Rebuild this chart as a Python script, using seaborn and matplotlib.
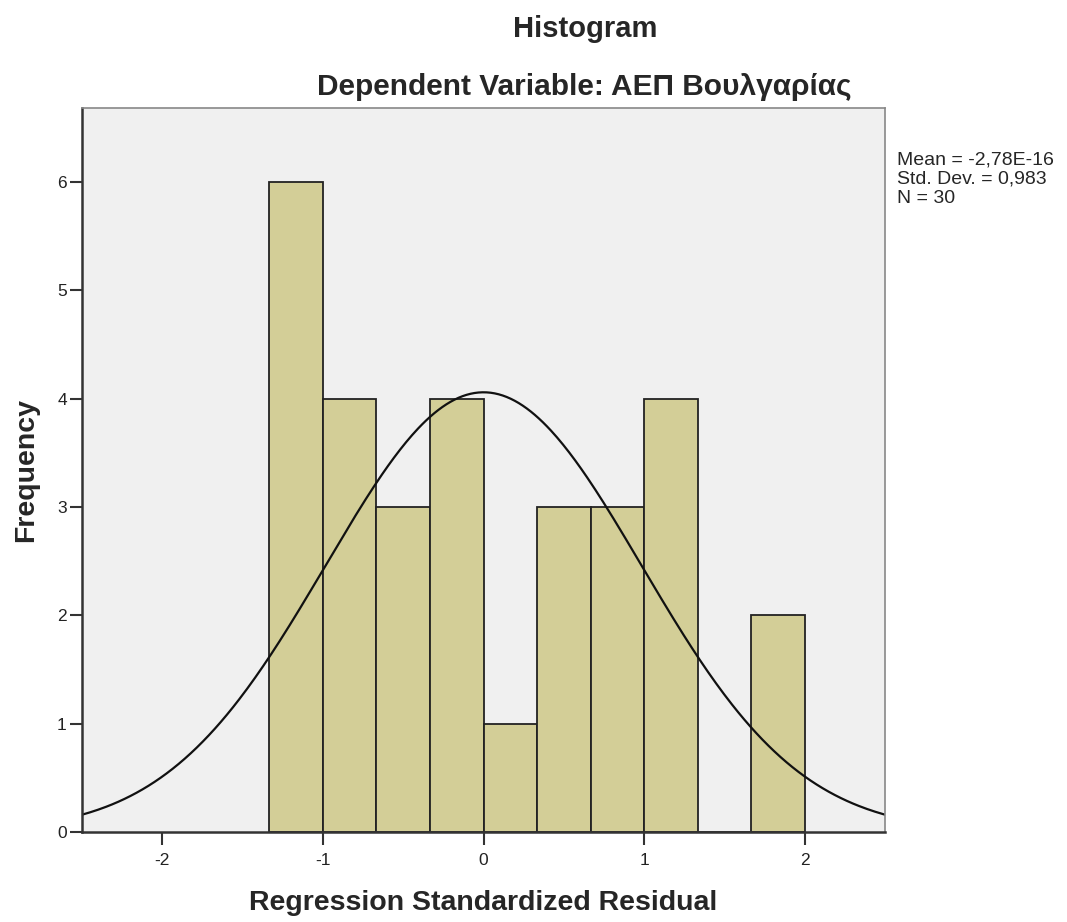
import matplotlib
matplotlib.use("Agg")
import matplotlib.pyplot as plt
import seaborn as sns
import numpy as np
import pandas as pd

# histogram bins (regression standardized residual) and frequencies
bin_edges = [-4/3, -1, -2/3, -1/3, 0, 1/3, 2/3, 1, 4/3, 5/3, 2]
counts = [6, 4, 3, 4, 1, 3, 3, 4, 0, 2]
x_ticks = [-2, -1, 0, 1, 2]
y_ticks = [0, 1, 2, 3, 4, 5, 6]
mean_val = -2.78e-16
std_val = 0.983
n_val = 30

sns.set_style("ticks")
plt.rcParams['font.family'] = ['Liberation Sans', 'DejaVu Sans']
plt.rcParams['axes.unicode_minus'] = False

fig = plt.figure(figsize=(10.67, 9.22), dpi=100)
ax = fig.add_axes([0.0769, 0.0976, 0.7526, 0.785])
ax.set_facecolor('#F0F0F0')

centers = [(a + b) / 2 for a, b in zip(bin_edges[:-1], bin_edges[1:])]
df = pd.DataFrame({'resid': centers, 'freq': counts})
sns.histplot(data=df, x='resid', weights='freq', bins=bin_edges, ax=ax,
             color='#D3CE97', alpha=1, edgecolor='#222222', linewidth=1.3)

# fitted normal curve
bw = bin_edges[1] - bin_edges[0]
xs = np.linspace(-2.5, 2.5, 400)
ys = n_val * bw * np.exp(-0.5 * ((xs - mean_val) / std_val) ** 2) / (std_val * np.sqrt(2 * np.pi))
ax.plot(xs, ys, color='#111111', linewidth=1.6)

ax.set_xlim(-2.5, 2.5)
ax.set_ylim(0, 6.68)
ax.set_xticks(x_ticks)
ax.set_yticks(y_ticks)
ax.tick_params(axis='both', direction='out', length=9, width=1.5, color='#333333',
               labelsize=12.5, labelcolor='#222222')
ax.tick_params(axis='x', pad=6)
ax.tick_params(axis='y', pad=2)
for s in ['left', 'bottom']:
    ax.spines[s].set_linewidth(1.8)
    ax.spines[s].set_color('#333333')
for s in ['top', 'right']:
    ax.spines[s].set_linewidth(1.2)
    ax.spines[s].set_color('#888888')

ax.set_xlabel('Regression Standardized Residual', fontsize=20.5, fontweight='bold', labelpad=16)
ax.set_ylabel('Frequency', fontsize=20.5, fontweight='bold', labelpad=13)

fig.text(0.548, 0.969, 'Histogram', fontsize=21, fontweight='bold', ha='center', va='center')
fig.text(0.548, 0.906, 'Dependent Variable: ΑΕΠ Βουλγαρίας', fontsize=21.5, fontweight='bold',
         ha='center', va='center')

fig.text(0.841, 0.836, 'Mean = -2,78E-16\nStd. Dev. = 0,983\nN = 30', fontsize=14,
         ha='left', va='top', linespacing=1.2)

fig.savefig('out.png', dpi=100, facecolor='white')
